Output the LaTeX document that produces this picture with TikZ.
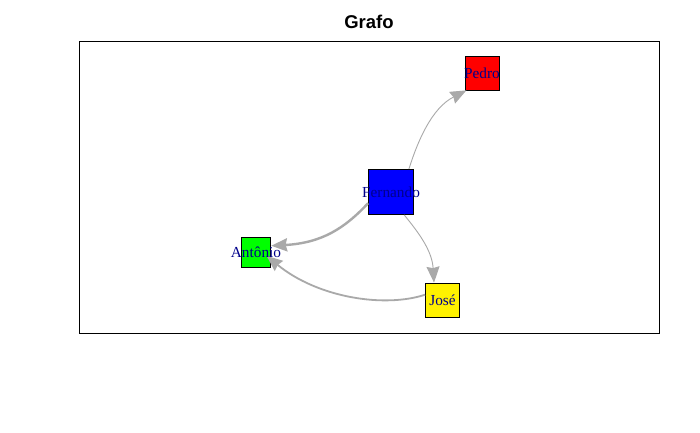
\documentclass[tikz,border=0pt]{standalone}
\usepackage{fontspec}
\setmainfont{Liberation Serif}
\newfontfamily\titlefont{Liberation Sans}
\usetikzlibrary{arrows.meta,calc}
\definecolor{lblblue}{HTML}{00008B}
\definecolor{edgegray}{HTML}{A9A9A9}
\tikzset{
  vbox/.style={draw=black, line width=0.8pt, rectangle, inner sep=0pt, anchor=center},
  lbl/.style={text=lblblue, font=\fontsize{15.3}{15.3}\selectfont, inner sep=0pt},
  edge/.style={draw=edgegray, line width=0.9pt, -{Stealth[length=16pt,width=13pt,inset=1.5pt]}},
}
\begin{document}
\begin{tikzpicture}[x=1pt,y=-1pt]
\useasboundingbox (0,0) rectangle (700,432);
\fill[white] (0,0) rectangle (700,432);
\node[font=\titlefont\bfseries\fontsize{18.5}{18.5}\selectfont] (title) at (369,21.5) {Grafo};
\draw[line width=0.8pt] (79,41) rectangle (659,333);

\node[vbox, fill=red, minimum size=34pt] (P) at (482,73) {};
\node[vbox, fill=blue, minimum size=45pt] (F) at (391,192) {};
\node[vbox, fill=green, minimum size=29.5pt] (A) at (256,252.5) {};
\node[vbox, fill=yellow, minimum size=34pt] (J) at (442.5,300) {};

\draw[edge] (F.52) .. controls (418,140) and (432,108) .. (P.228);
\draw[edge, line width=2.4pt] (F.206) .. controls (345,228) and (322,243) .. (A.24);
\draw[edge] (F.-60) .. controls (418,232) and (432,250) .. (J.116);
\draw[edge, line width=1.8pt, shorten >=-6pt] (J.163) .. controls (385,308) and (318,298) .. (A.-25);

\node[lbl] (Pl) at (P.center) {Pedro};
\node[lbl] (Fl) at (F.center) {Fernando};
\node[lbl] (Al) at (A.center) {Antônio};
\node[lbl] (Jl) at (J.center) {José};
\end{tikzpicture}
\end{document}
